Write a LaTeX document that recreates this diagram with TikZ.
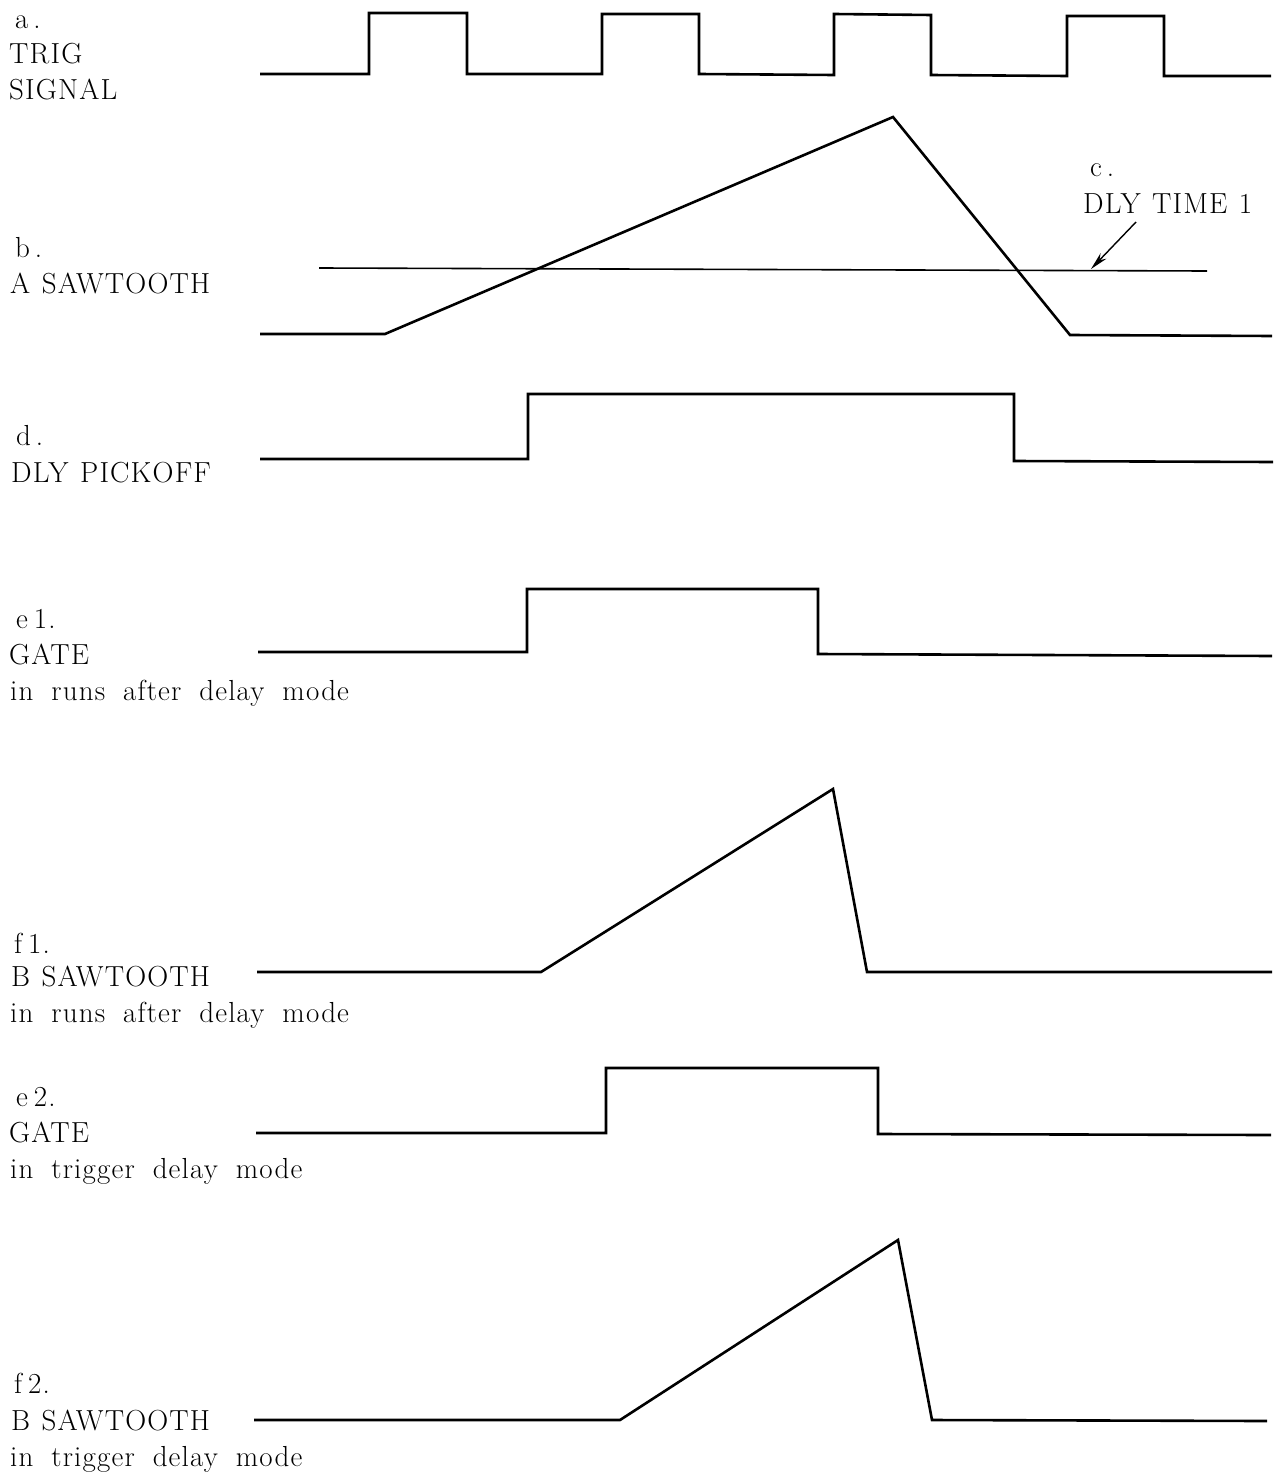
\documentclass[tikz,border=0pt]{standalone}
\usepackage{fontspec}
\setmainfont{Latin Modern Roman}[LetterSpace=4.0]
\usetikzlibrary{arrows.meta}
\newcommand\wavelblfont{\fontsize{29}{35}\selectfont}
\tikzset{
  wave/.style={line width=2.6pt, line join=miter},
  refline/.style={line width=1.6pt},
  ptr/.style={line width=1.4pt, -{Stealth[length=18pt,width=8pt]}},
  lbl/.style={anchor=base west, inner sep=0pt, font=\wavelblfont,
    execute at begin node={\spaceskip=0.4em\relax}},
  lblwide/.style={lbl, execute at begin node={\spaceskip=0.62em\relax}},
}
\begin{document}
\begin{tikzpicture}[x=1pt,y=-1pt]
\useasboundingbox (0,0) rectangle (1277,1477);

% labels
\node[lbl] (la1) at (15,29) {a\,.};
\node[lbl] (la2) at (9,64) {TRIG};
\node[lbl] (la3) at (9,100) {SIGNAL};

\node[lbl] (lb1) at (15,257) {b\,.};
\node[lbl] (lb2) at (10,293) {A SAWTOOTH};

\node[lbl] (lc1) at (1090,176) {c\,.};
\node[lbl] (lc2) at (1083,213) {DLY TIME 1};

\node[lbl] (ld1) at (16,445) {d\,.};
\node[lbl] (ld2) at (11,482) {DLY PICKOFF};

\node[lbl] (le1a) at (16,628) {e\hspace{6pt}1.};
\node[lbl] (le1b) at (9,664) {GATE};
\node[lblwide] (le1c) at (10,700) {in runs after delay mode};

\node[lbl] (lf1a) at (14,953) {f\hspace{6pt}1.};
\node[lbl] (lf1b) at (11,986) {B SAWTOOTH};
\node[lblwide] (lf1c) at (10,1022) {in runs after delay mode};

\node[lbl] (le2a) at (16,1106) {e\hspace{6pt}2.};
\node[lbl] (le2b) at (9,1142) {GATE};
\node[lblwide] (le2c) at (10,1178) {in trigger delay mode};

\node[lbl] (lf2a) at (14,1393) {f\hspace{6pt}2.};
\node[lbl] (lf2b) at (11,1430) {B SAWTOOTH};
\node[lblwide] (lf2c) at (10,1466) {in trigger delay mode};

% a. trig signal
\draw[wave] (260,74) -- (369,74) -- (369,13) -- (467,13) -- (467,74)
  -- (602,74) -- (602,14) -- (699,14) -- (699,74)
  -- (834,75) -- (834,14) -- (931,15) -- (931,75)
  -- (1067,76) -- (1067,16) -- (1164,16) -- (1164,76) -- (1271,76);

% b. A sawtooth
\draw[wave] (260,334) -- (385,334) -- (893,117) -- (1070,335) -- (1272,336);

% c. delay time level
\draw[refline] (319,268) -- (1207,271);
\coordinate (ctail) at (1136,222);
\coordinate (ctip) at (1091,269);
\draw[ptr] (ctail) -- (ctip);

% d. dly pickoff
\draw[wave] (260,459) -- (528,459) -- (528,394) -- (1014,394) -- (1014,461) -- (1273,462);

% e1. gate
\draw[wave] (258,652) -- (527,652) -- (527,589) -- (818,589) -- (818,654) -- (1272,656);

% f1. B sawtooth
\draw[wave] (257,972) -- (541,972) -- (833,789) -- (867,972) -- (1272,972);

% e2. gate
\draw[wave] (256,1133) -- (606,1133) -- (606,1068) -- (878,1068) -- (878,1134) -- (1271,1135);

% f2. B sawtooth
\draw[wave] (254,1420) -- (620,1420) -- (898,1240) -- (932,1420) -- (1267,1421);
\end{tikzpicture}
\end{document}
